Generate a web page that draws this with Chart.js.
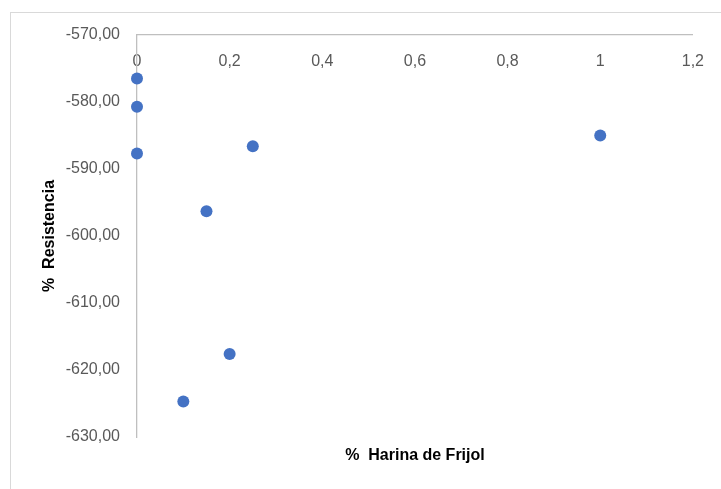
<!DOCTYPE html>
<html>
<head>
<meta charset="utf-8">
<script src="https://cdn.jsdelivr.net/npm/chart.js@4/dist/chart.umd.min.js"></script>
<style>
  html, body { margin: 0; padding: 0; background: #fff; }
  #wrap { position: relative; width: 721px; height: 489px; overflow: hidden; }
  #frame { position: absolute; left: 10px; top: 12px; width: 800px; height: 600px; border: 1px solid #d9d9d9; box-sizing: border-box; }
  canvas { position: absolute; left: 0; top: 0; }
</style>
</head>
<body>
<div id="wrap">
  <div id="frame"></div>
  <canvas id="c" width="721" height="489"></canvas>
</div>
<script>
// Data
const harinaFrijol = [0, 0, 0, 0.25, 1.0, 0.15, 0.2, 0.1];
const resistencia  = [-576.5, -580.7, -587.7, -586.6, -585.0, -596.3, -617.6, -624.7];
const xTickValues = [0, 0.2, 0.4, 0.6, 0.8, 1, 1.2];
const yTickValues = [-630, -620, -610, -600, -590, -580, -570];
const xTitle = '%  Harina de Frijol';
const yTitle = '%  Resistencia';

const points = harinaFrijol.map((x, i) => ({ x: x, y: resistencia[i] }));
const FONT = '"Liberation Sans", Arial, sans-serif';
const AXIS_COLOR = '#bfbfbf';
const TEXT_COLOR = '#595959';

new Chart(document.getElementById('c'), {
  type: 'scatter',
  data: {
    datasets: [{
      data: points,
      backgroundColor: '#4472C4',
      borderColor: '#4472C4',
      pointRadius: 6,
      pointHoverRadius: 6,
      borderWidth: 0,
      clip: false
    }]
  },
  options: {
    responsive: false,
    animation: false,
    events: [],
    layout: { padding: { top: 35, right: 28, left: 0, bottom: 0 } },
    plugins: { legend: { display: false }, tooltip: { enabled: false } },
    scales: {
      x: {
        type: 'linear',
        position: { y: -570 },
        min: 0, max: 1.2,
        afterBuildTicks: s => { s.ticks = xTickValues.map(v => ({ value: v })); },
        ticks: {
          padding: 17,
          color: TEXT_COLOR,
          font: { family: FONT, size: 16 },
          callback: v => String(Math.round(v * 10) / 10).replace('.', ',')
        },
        grid: { display: false, drawTicks: false },
        border: { display: true, color: AXIS_COLOR, width: 1.3 }
      },
      x2: {
        type: 'linear',
        position: 'bottom',
        min: 0, max: 1.2,
        ticks: { display: false },
        grid: { display: false, drawTicks: false },
        border: { display: false },
        title: {
          display: true,
          text: xTitle,
          color: '#000',
          font: { family: FONT, size: 16, weight: 'bold' },
          padding: { top: 0, bottom: 24 }
        },
        afterFit: s => { s.height = 52; }
      },
      y: {
        type: 'linear',
        position: 'left',
        min: -630, max: -570,
        afterBuildTicks: s => { s.ticks = yTickValues.map(v => ({ value: v })); },
        ticks: {
          padding: 17,
          color: TEXT_COLOR,
          font: { family: FONT, size: 16 },
          callback: v => v.toFixed(2).replace('.', ',')
        },
        grid: { display: false, drawTicks: false },
        border: { display: true, color: AXIS_COLOR, width: 1.3 },
        title: {
          display: true,
          text: yTitle,
          color: '#000',
          font: { family: FONT, size: 16, weight: 'bold' },
          padding: { top: 40, bottom: 0 }
        },
        afterFit: s => { s.width = 137; }
      }
    }
  }
});
</script>
</body>
</html>
